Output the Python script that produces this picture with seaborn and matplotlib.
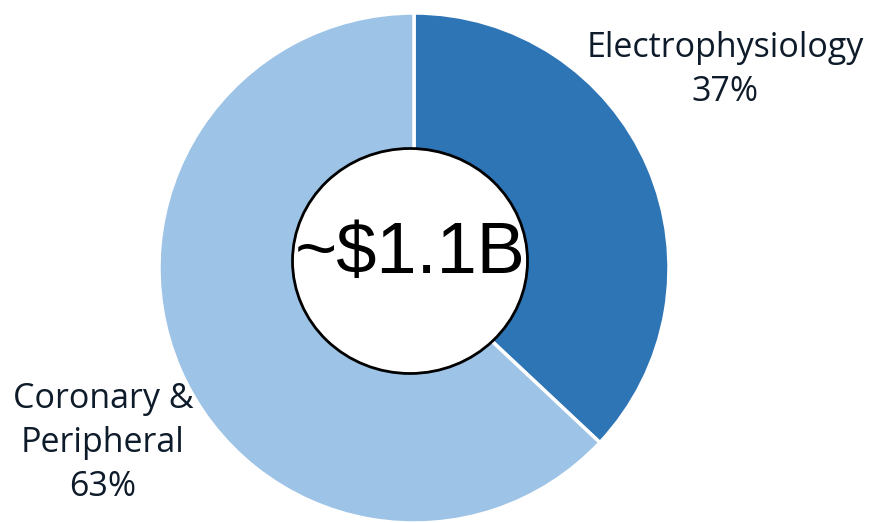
import matplotlib
matplotlib.use("Agg")
import matplotlib.pyplot as plt
import seaborn as sns
from matplotlib.patches import Ellipse

categories = ["Electrophysiology", "Coronary &\nPeripheral"]
shares = [37, 63]
center_label = "~$1.1B"

sns.set_theme(style="white")
colors = ["#2e75b6", "#9dc3e6"]
text_color = "#0e1b2a"

W, H = 873, 523
fig = plt.figure(figsize=(W / 100, H / 100), dpi=100)
ax = fig.add_axes([0, 0, 1, 1])

cx, cy, r = 414, H - 268, 255
ax.pie(shares, colors=colors, startangle=90, counterclock=False,
       center=(cx, cy), radius=r, frame=True,
       wedgeprops=dict(edgecolor="white", linewidth=2.5))
ax.set_xlim(0, W)
ax.set_ylim(0, H)
ax.set_aspect("equal")
ax.axis("off")

ax.add_patch(Ellipse((410, H - 261), 235, 225, facecolor="white",
                     edgecolor="black", linewidth=2, zorder=5))
ax.text(410, H - 255, center_label, ha="center", va="center",
        fontsize=52, family="Liberation Sans", color="black", zorder=6)

ax.text(725, H - 70, f"{categories[0]}\n{shares[0]}%", ha="center", va="center",
        fontsize=24.5, family="Open Sans", color=text_color, linespacing=1.38)
ax.text(103, H - 443, f"{categories[1]}\n{shares[1]}%", ha="center", va="center",
        fontsize=24.5, family="Open Sans", color=text_color, linespacing=1.38)

fig.savefig("out.png", dpi=100)
